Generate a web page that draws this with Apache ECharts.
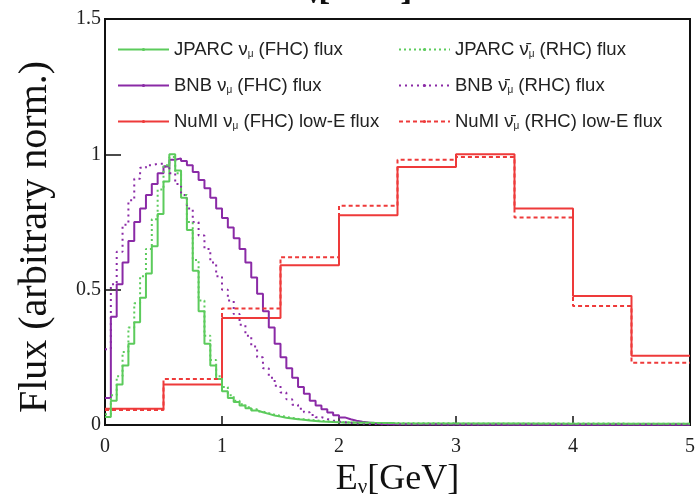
<!DOCTYPE html>
<html>
<head>
<meta charset="utf-8">
<script src="https://cdn.jsdelivr.net/npm/echarts@6/dist/echarts.min.js"></script>
<style>html,body{margin:0;padding:0;background:#fff}#c{width:697px;height:501px}</style>
</head>
<body>
<div id="c"></div>
<script>
// fine bins: 0.05 GeV wide, lower edges 0.00 ... 2.45
const fineBinWidth = 0.05;
const jparcFHC = [0.03,0.09,0.15,0.22,0.30,0.38,0.47,0.56,0.66,0.78,0.90,1.00,0.94,0.84,0.72,0.57,0.42,0.30,0.22,0.17,
  0.125,0.10,0.085,0.072,0.062,0.054,0.047,0.041,0.035,0.031,0.027,0.024,0.021,0.019,0.017,0.015,0.013,0.012,0.011,0.010,
  0.009,0.009,0.008,0.008,0.008,0.007,0.007,0.007,0.007,0.006];
const jparcRHC = [0.04,0.11,0.18,0.27,0.36,0.45,0.55,0.65,0.76,0.87,0.96,0.99,0.93,0.85,0.75,0.61,0.46,0.33,0.24,0.18,
  0.14,0.11,0.09,0.077,0.066,0.058,0.05,0.044,0.038,0.034,0.03,0.026,0.023,0.021,0.019,0.017,0.015,0.014,0.012,0.011,
  0.010,0.009,0.009,0.008,0.008,0.008,0.007,0.007,0.007,0.007];
const bnbFHC = [0.10,0.40,0.52,0.60,0.68,0.75,0.80,0.85,0.89,0.93,0.955,0.98,0.985,0.975,0.96,0.935,0.905,0.875,0.84,0.80,
  0.765,0.73,0.69,0.65,0.60,0.545,0.485,0.42,0.36,0.30,0.25,0.21,0.175,0.14,0.115,0.09,0.072,0.058,0.046,0.036,
  0.028,0.021,0.016,0.012,0.009,0.007,0.005,0.004,0.003,0.003];
const bnbRHC = [0.28,0.52,0.64,0.74,0.83,0.91,0.95,0.96,0.965,0.965,0.955,0.93,0.89,0.85,0.80,0.75,0.70,0.65,0.60,0.55,
  0.50,0.46,0.41,0.37,0.33,0.29,0.25,0.21,0.175,0.145,0.12,0.095,0.075,0.06,0.047,0.037,0.029,0.022,0.017,0.013,
  0.010,0.008,0.006,0.005,0.004,0.004,0.003,0.003,0.003,0.003];
// coarse tail bins 2.5 - 5 GeV (0.5 GeV wide)
const tailEdges = [2.5,3.0,3.5,4.0,4.5];
const jparcFHCTail = [0.006,0.006,0.005,0.005,0.005];
const jparcRHCTail = [0.006,0.006,0.006,0.005,0.005];
const bnbFHCTail = [0.002,0.001,0.001,0.001,0.001];
const bnbRHCTail = [0.002,0.002,0.002,0.002,0.002];
// NuMI: 0.5 GeV bins
const numiEdges = [0,0.5,1.0,1.5,2.0,2.5,3.0,3.5,4.0,4.5];
const numiFHC = [0.06,0.15,0.395,0.59,0.775,0.953,1.0,0.80,0.477,0.256];
const numiRHC = [0.055,0.17,0.43,0.62,0.81,0.98,0.99,0.767,0.44,0.23];
const xMax = 5;

const xTicks = [0,1,2,3,4,5];
const yTicks = [0,0.5,1,1.5];

function fineHist(vals, tail){
  const pts = [];
  vals.forEach((v,i)=>pts.push([+(i*fineBinWidth).toFixed(2), v]));
  tail.forEach((v,i)=>pts.push([tailEdges[i], v]));
  pts.push([xMax, tail[tail.length-1]]);
  return pts;
}
function coarseHist(edges, vals){
  const pts = edges.map((e,i)=>[e, vals[i]]);
  pts.push([xMax, vals[vals.length-1]]);
  return pts;
}

const GREEN = '#5ccb5c', PURPLE = '#8a2aa6', RED = '#ee3a3a';
function ser(name, data, color, dash, w){
  return {name, type:'line', step:'end', data, showSymbol:false, symbol:'circle', symbolSize:3, animation:false,
    lineStyle:{color, width:w, type: dash || 'solid'}, itemStyle:{color}, z: dash?3:2};
}

const labels = {
  'JPARC FHC': '{t|JPARC ν}{s|μ}{t| (FHC) flux}',
  'BNB FHC': '{t|BNB ν}{s|μ}{t| (FHC) flux}',
  'NuMI FHC': '{t|NuMI ν}{s|μ}{t| (FHC) low-E flux}',
  'JPARC RHC': '{t|JPARC ν̄}{s|μ}{t| (RHC) flux}',
  'BNB RHC': '{t|BNB ν̄}{s|μ}{t| (RHC) flux}',
  'NuMI RHC': '{t|NuMI ν̄}{s|μ}{t| (RHC) low-E flux}'
};
const legendBase = {
  orient:'vertical', top:40, padding:0, itemWidth:51, itemHeight:4, itemGap:16.5,
  formatter: n => labels[n],
  textStyle: {rich: {
    t:{fontFamily:'Liberation Sans', fontSize:18.5, color:'#222', lineHeight:20},
    s:{fontFamily:'Liberation Sans', fontSize:10, color:'#222', verticalAlign:'bottom', lineHeight:20, padding:[8,0,0,0]}
  }}
};

const titleRich = {
  m:{fontFamily:'Liberation Serif', fontSize:36, color:'#111'},
  s:{fontFamily:'Liberation Serif', fontSize:21, color:'#111', verticalAlign:'bottom', padding:[14,0,0,0]}
};

const chart = echarts.init(document.getElementById('c'), null, {renderer:'canvas'});
chart.setOption({
  backgroundColor:'#fff',
  animation:false,
  title:{
    text:'{m|E}{s|ν}{m|[GeV]}', left:'center', top:-33,
    textStyle:{rich:titleRich}
  },
  graphic:[{
    type:'text', x:35, y:237, rotation:Math.PI/2, silent:true,
    style:{text:'Flux (arbitrary norm.)', font:'40px "Liberation Serif"', fill:'#111',
      textAlign:'center', textVerticalAlign:'middle'}
  }],
  grid:{left:105, right:7, top:19, bottom:76, show:true, borderColor:'#111', borderWidth:2,
    backgroundColor:'transparent', containLabel:false, outerBoundsMode:'none'},
  legend:[
    Object.assign({left:117, data:['JPARC FHC','BNB FHC','NuMI FHC']}, legendBase),
    Object.assign({left:398, data:['JPARC RHC','BNB RHC','NuMI RHC']}, legendBase)
  ],
  xAxis:{
    type:'value', min:0, max:5, interval:1,
    axisLine:{show:true, lineStyle:{color:'#111', width:2}},
    axisTick:{show:true, inside:true, length:9, lineStyle:{color:'#111', width:1.5}},
    axisLabel:{fontFamily:'Liberation Serif', fontSize:20, color:'#222', margin:12,
      formatter: v => xTicks.includes(v) ? String(v) : ''},
    splitLine:{show:false},
    name:'{m|E}{s|ν}{m|[GeV]}', nameLocation:'middle', nameGap:36,
    nameTextStyle:{rich:titleRich}
  },
  yAxis:{
    type:'value', min:0, max:1.5, interval:0.5,
    axisLine:{show:true, lineStyle:{color:'#111', width:2}},
    axisTick:{show:true, inside:true, length:16, lineStyle:{color:'#111', width:1.5}},
    axisLabel:{fontFamily:'Liberation Serif', fontSize:20, color:'#222', margin:4,
      formatter: v => yTicks.includes(v) ? String(v) : ''},
    splitLine:{show:false}
  },
  series:[
    ser('NuMI FHC', coarseHist(numiEdges, numiFHC), RED, null, 2),
    ser('NuMI RHC', coarseHist(numiEdges, numiRHC), RED, [4,3], 2),
    ser('BNB FHC', fineHist(bnbFHC, bnbFHCTail), PURPLE, null, 2),
    ser('BNB RHC', fineHist(bnbRHC, bnbRHCTail), PURPLE, [2,4], 2),
    ser('JPARC FHC', fineHist(jparcFHC, jparcFHCTail), GREEN, null, 2),
    ser('JPARC RHC', fineHist(jparcRHC, jparcRHCTail), GREEN, [2,3], 2)
  ]
});
</script>
</body>
</html>
